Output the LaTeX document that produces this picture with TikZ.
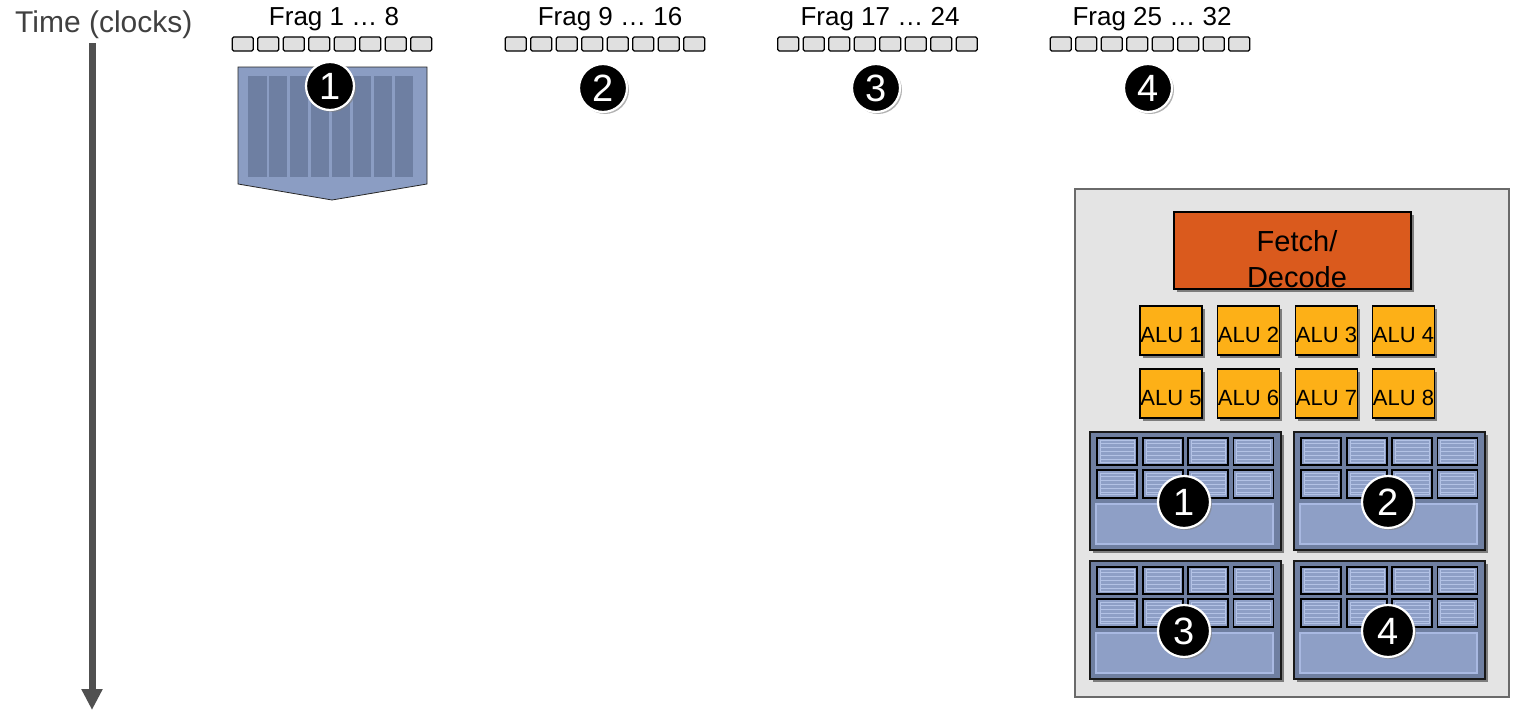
\documentclass[tikz,border=0pt]{standalone}
\usepackage{fontspec}
\setmainfont{Liberation Sans}
\usetikzlibrary{arrows.meta,shadows}

\definecolor{axisgray}{HTML}{505050}
\definecolor{timegray}{HTML}{404040}
\definecolor{slotfill}{HTML}{E0E0E0}
\definecolor{shieldfill}{HTML}{8B9DC3}
\definecolor{shieldstripe}{HTML}{6E7FA2}
\definecolor{panelfill}{HTML}{E4E4E4}
\definecolor{panelline}{HTML}{6A6A6A}
\definecolor{fetchfill}{HTML}{DA5A1D}
\definecolor{alufill}{HTML}{FDB017}
\definecolor{blockfill}{HTML}{6F7FA1}
\definecolor{cellfill}{HTML}{8E9FC6}
\definecolor{cellline}{HTML}{B3C2E5}
\definecolor{bottomline}{HTML}{A9B9E2}

\begin{document}
\begin{tikzpicture}[x=1pt,y=-1pt,
  softshadow/.style={drop shadow={shadow xshift=2.5pt,shadow yshift=-2.5pt,opacity=0.45,fill=black}},
  timelabel/.style={font=\fontsize{30}{34}\selectfont,text=timegray,inner sep=0pt},
  timeaxis/.style={draw=axisgray,line width=7pt,-{Triangle[width=20pt,length=21pt]}},
  fraglabel/.style={font=\fontsize{26}{30}\selectfont,inner sep=0pt,anchor=base},
  fragslot/.style={draw=black,fill=slotfill,line width=1.2pt,rounded corners=1.5pt,
    minimum width=21pt,minimum height=14pt,inner sep=0pt},
  numdisc/.style={circle,fill=black,draw=white,line width=2.2pt,minimum size=48pt,inner sep=0pt,
    text=white,font=\fontsize{38}{38}\selectfont,
    drop shadow={shadow xshift=2pt,shadow yshift=-2pt,opacity=0.6,fill=gray}},
  shield/.style={draw=black!85,line width=0.8pt,fill=shieldfill},
  stripe/.style={fill=shieldstripe},
  panel/.style={draw=panelline,line width=2pt,fill=panelfill,inner sep=0pt},
  fetchbox/.style={draw=black,line width=1.5pt,fill=fetchfill,softshadow,inner sep=0pt,
    minimum width=237pt,minimum height=77pt},
  fetchtext/.style={font=\fontsize{29}{36}\selectfont,align=center,inner sep=0pt,anchor=north},
  alubox/.style={draw=black,line width=1.5pt,fill=alufill,softshadow,inner sep=0pt,
    minimum width=62pt,minimum height=49pt,font=\fontsize{22}{24}\selectfont,text height=24pt,text depth=0pt},
  regblock/.style={draw=black!90,line width=1.6pt,fill=blockfill,softshadow,inner sep=0pt,
    minimum width=191pt,minimum height=118pt},
  regcell/.style={draw=black,line width=1.6pt,fill=cellfill,inner sep=0pt,
    minimum width=40pt,minimum height=27.5pt,
    path picture={
      \draw[cellline,line width=0.8pt]
        ([xshift=3pt,yshift=3pt]path picture bounding box.south west)
        rectangle ([xshift=-3pt,yshift=-3pt]path picture bounding box.north east);
      \foreach \s in {-2,...,2}
        \draw[cellline,line width=0.7pt]
          ([xshift=3pt,yshift=4*\s pt]path picture bounding box.west) --
          ([xshift=-3pt,yshift=4*\s pt]path picture bounding box.east);
    }},
  regpool/.style={draw=bottomline,line width=1.2pt,fill=cellfill,inner sep=0pt,
    minimum width=177pt,minimum height=40pt}
]
\useasboundingbox (0,0) rectangle (1534,728);

% time axis
\node[timelabel,anchor=base west] (timelbl) at (15,32) {Time (clocks)};
\coordinate (tstart) at (92,43);
\coordinate (tend) at (92,710);
\draw[timeaxis] (tstart) -- (tend);

% fragment groups: label, eight slots, group number
\foreach \g/\lx/\bx/\dx/\dy/\txt in {
    1/334/332/330/86/{Frag 1 … 8},
    2/610/605/603/88/{Frag 9 … 16},
    3/880/877.5/876/88/{Frag 17 … 24},
    4/1152/1150/1148/88/{Frag 25 … 32}} {
  \node[fraglabel] (frag-\g) at (\lx,25) {\txt};
  \foreach \k in {0,...,7}
    \node[fragslot] (slot-\g-\k) at ({\bx-89.25+25.5*\k},44) {};
}

% group 1 being issued: shield with eight lanes
\draw[shield] (238,67) -- (427,67) -- (427,184) -- (332,200) -- (238,184) -- cycle;
\foreach \k in {0,...,7}
  \fill[stripe] ({248+20.95*\k},76) rectangle ++(18.5,101);

\foreach \g/\dx/\dy in {1/330/86, 2/603/88, 3/876/88, 4/1148/88}
  \node[numdisc] (disc-\g) at (\dx,\dy) {\g};

% core
\node[panel,minimum width=434pt,minimum height=508pt] (core) at (1292,443) {};
\node[fetchbox] (fetch) at (1292.5,250.5) {};
\node[fetchtext] (fetchlbl) at (1297,230) {Fetch/\\Decode};

\foreach \i/\ax/\ay in {1/1171/330.5, 2/1248.5/330.5, 3/1326.5/330.5, 4/1403.5/330.5,
                        5/1171/393.5, 6/1248.5/393.5, 7/1326.5/393.5, 8/1403.5/393.5}
  \node[alubox] (alu-\i) at (\ax,\ay) {ALU \i};

% execution contexts
\foreach \b/\X/\Y in {1/1090/432, 2/1294/432, 3/1090/561, 4/1294/561} {
  \node[regblock] (ctx-\b) at ({\X+95.5},{\Y+59}) {};
  \foreach \r/\cy in {1/19.5, 2/52} {
    \foreach \c/\cx in {1/27, 2/73, 3/118, 4/163.5}
      \node[regcell] (cell-\b-\r-\c) at ({\X+\cx},{\Y+\cy}) {};
  }
  \node[regpool] (pool-\b) at ({\X+94.5},{\Y+92}) {};
  \node[numdisc,minimum size=52pt] (ctxdisc-\b) at ({\X+94},{\Y+70}) {\b};
}
\end{tikzpicture}
\end{document}
